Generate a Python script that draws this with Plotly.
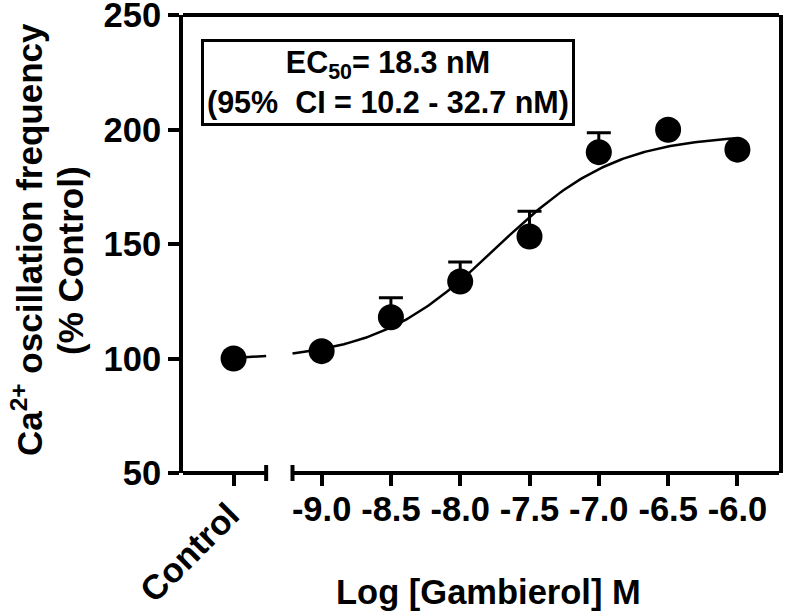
import numpy as np
import plotly.graph_objects as go

# ---- data ----
log_conc = [-9.0, -8.5, -8.0, -7.5, -7.0, -6.5, -6.0]
freq_mean = [103.2, 118.0, 133.6, 153.3, 190.1, 199.9, 191.2]
freq_err_up = [0.0, 8.5, 8.5, 11.0, 8.5, 0.0, 0.0]
control_label = "Control"
control_value = 100.0
tick_labels = ["-9.0", "-8.5", "-8.0", "-7.5", "-7.0", "-6.5", "-6.0"]
y_ticks = [50, 100, 150, 200, 250]

# sigmoid fit parameters (from the EC50 box / visual fit)
fit_bottom = 99.0
fit_top = 198.0
ec50_nM = 18.3
hill = 1.0

# ---- layout constants ----
X_RANGE = [-10.0, -5.7]
CONTROL_POS = -9.635
BREAK_L = -9.40
BREAK_R = -9.21
FONT = "Liberation Sans, Arial, Helvetica, sans-serif"
FS = 34.5

log_ec50 = np.log10(ec50_nM * 1e-9)


def fit(x):
    x = np.asarray(x)
    return fit_bottom + (fit_top - fit_bottom) / (1 + 10 ** ((log_ec50 - x) * hill))


fig = go.Figure()

# fitted curve (two pieces across the axis break)
xl = np.linspace(CONTROL_POS, BREAK_L, 20)
xr = np.linspace(BREAK_R, log_conc[-1], 200)
for xs in (xl, xr):
    fig.add_trace(go.Scatter(x=xs, y=fit(xs), mode="lines",
                             line=dict(color="black", width=2.5),
                             hoverinfo="skip", showlegend=False))

# control point
fig.add_trace(go.Scatter(x=[CONTROL_POS], y=[control_value], mode="markers",
                         marker=dict(size=26, color="black"), showlegend=False))

# concentration points with upper error bars
fig.add_trace(go.Scatter(
    x=log_conc, y=freq_mean, mode="markers",
    marker=dict(size=26, color="black"),
    error_y=dict(type="data", symmetric=False, array=freq_err_up,
                 arrayminus=[0] * len(freq_err_up),
                 color="black", thickness=3, width=12),
    showlegend=False))

fig.update_xaxes(
    range=X_RANGE, showline=False, showgrid=False, zeroline=False, automargin=False,
    ticks="outside", ticklen=12, tickwidth=4, tickcolor="black",
    tickvals=[CONTROL_POS] + log_conc, ticktext=[""] + tick_labels,
    ticklabeloverflow="allow", ticklabelstandoff=-6,
    tickfont=dict(size=FS, family=FONT, color="black", weight="bold"),
)
fig.update_yaxes(
    range=[50, 250], showline=True, linewidth=4, linecolor="black", mirror=True,
    showgrid=False, zeroline=False, automargin=False,
    ticks="outside", ticklen=11, tickwidth=4, tickcolor="black",
    tickvals=y_ticks, ticktext=[str(v) for v in y_ticks],
    ticklabeloverflow="allow",
    tickfont=dict(size=FS, family=FONT, color="black", weight="bold"),
)

cap = 0.0175
span = X_RANGE[1] - X_RANGE[0]
shapes = [
    # top frame line
    dict(type="line", xref="paper", yref="paper", x0=0, x1=1, y0=1, y1=1,
         line=dict(color="black", width=4)),
    # x-axis left segment + cap
    dict(type="line", xref="paper", yref="paper", x0=0, x1=(BREAK_L - X_RANGE[0]) / span,
         y0=0, y1=0, line=dict(color="black", width=4)),
    dict(type="line", xref="x", yref="paper", x0=BREAK_L, x1=BREAK_L, y0=-cap, y1=cap,
         line=dict(color="black", width=4)),
    # x-axis right segment + cap
    dict(type="line", xref="paper", yref="paper", x0=(BREAK_R - X_RANGE[0]) / span, x1=1,
         y0=0, y1=0, line=dict(color="black", width=4)),
    dict(type="line", xref="x", yref="paper", x0=BREAK_R, x1=BREAK_R, y0=-cap, y1=cap,
         line=dict(color="black", width=4)),
]

tfont = dict(size=FS, family=FONT, color="black", weight="bold")
annotations = [
    dict(text="Ca<sup>2+</sup> oscillation frequency", textangle=-90,
         xref="paper", yref="paper", x=-0.2617, y=0.5087, xanchor="center", yanchor="middle",
         showarrow=False, font=dict(size=35, family=FONT, color="black", weight="bold")),
    dict(text="(% Control)", textangle=-90,
         xref="paper", yref="paper", x=-0.1896, y=0.465, xanchor="center", yanchor="middle",
         showarrow=False, font=dict(size=35, family=FONT, color="black", weight="bold")),
    dict(text=control_label, textangle=-45,
         xref="x", yref="paper", x=-9.95, y=-0.1725, xanchor="center", yanchor="middle",
         showarrow=False, font=tfont),
    dict(text="Log [Gambierol] M",
         xref="paper", yref="paper", x=0.512, y=-0.26, xanchor="center", yanchor="middle",
         showarrow=False, font=tfont),
    dict(text="EC<sub>50</sub>= 18.3 nM<br>(95%&nbsp; CI = 10.2 - 32.7 nM)",
         xref="paper", yref="paper", x=0.344, y=0.853, xanchor="center", yanchor="middle",
         showarrow=False, bordercolor="black", borderwidth=3, borderpad=3, bgcolor="white",
         font=dict(size=30.5, family=FONT, color="black", weight="bold")),
]

fig.update_layout(
    width=785, height=615,
    margin=dict(l=183, r=6, t=15, b=142, autoexpand=False),
    paper_bgcolor="white", plot_bgcolor="white",
    font=dict(family=FONT, color="black", size=FS, weight="bold"),
    shapes=shapes, annotations=annotations, showlegend=False,
)

fig.write_html(
    "out.html",
    config={"displayModeBar": False},
    post_script="document.body.style.margin='0';document.body.style.overflow='hidden';",
)
